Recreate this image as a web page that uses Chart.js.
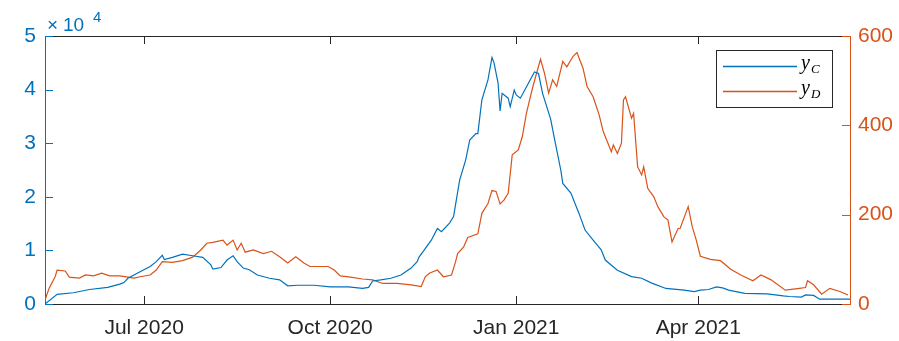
<!DOCTYPE html>
<html>
<head>
<meta charset="utf-8">
<script src="https://cdn.jsdelivr.net/npm/chart.js@4"></script>
<style>
  body { margin: 0; background: #fff; }
  #wrap { width: 899px; height: 341px; }
</style>
</head>
<body>
<div id="wrap"><canvas id="chart" width="899" height="341"></canvas></div>
<script>
// Day 0 = 13 May 2020
const tickDays = [49, 141, 233, 323];
const tickLabels = ['Jul 2020', 'Oct 2020', 'Jan 2021', 'Apr 2021'];
const leftTicks = [0, 10000, 20000, 30000, 40000, 50000];
const rightTicks = [0, 200, 400, 600];

// y_C (left axis)
const daysC = [0, 6, 14, 22, 31, 37, 39, 41, 47, 52, 55, 58, 59, 63, 68, 73, 78, 82, 83, 87, 90, 93, 95, 98, 101, 105, 111, 116, 120, 125, 133, 141, 150, 157, 160, 162, 166, 171, 176, 181, 184, 185, 187, 191, 194, 196, 200, 202, 205, 208, 210, 213, 214, 216, 219, 221, 222, 224, 225, 226, 229, 230, 232, 233, 235, 239, 242, 244, 246, 250, 252, 255, 256, 260, 264, 267, 271, 275, 277, 283, 290, 295, 300, 307, 316, 321, 324, 328, 332, 335, 338, 346, 357, 365, 368, 374, 376, 380, 383, 398];
const valuesC = [0, 1800, 2100, 2700, 3100, 3700, 4000, 4800, 6000, 7000, 7900, 9100, 8300, 8700, 9300, 9000, 8700, 7300, 6500, 6800, 8200, 9000, 7900, 6700, 6400, 5400, 4800, 4500, 3400, 3500, 3500, 3200, 3200, 2900, 3100, 4300, 4500, 4800, 5400, 6700, 7900, 8800, 9800, 11900, 14100, 13500, 15100, 16300, 23100, 26900, 30600, 31800, 31800, 38100, 41800, 46000, 45000, 41200, 36000, 39300, 38400, 36800, 39900, 39000, 38400, 41200, 43300, 43000, 39300, 34500, 30600, 25000, 22500, 20700, 16900, 13800, 11900, 10100, 8200, 6300, 5100, 4800, 3900, 2900, 2600, 2300, 2600, 2700, 3200, 3000, 2600, 2000, 1900, 1500, 1400, 1300, 1700, 1600, 900, 900];

// y_D (right axis)
const daysD = [0, 2, 5, 6, 10, 12, 17, 20, 24, 28, 32, 37, 41, 44, 47, 52, 55, 58, 63, 68, 73, 77, 80, 83, 88, 90, 93, 95, 97, 99, 103, 108, 112, 116, 120, 124, 128, 131, 136, 140, 143, 146, 151, 157, 162, 167, 174, 181, 186, 188, 190, 194, 197, 201, 203, 204, 207, 209, 214, 216, 219, 221, 223, 225, 227, 229, 231, 234, 236, 238, 241, 243, 245, 247, 249, 251, 253, 256, 258, 261, 263, 266, 268, 271, 274, 276, 280, 281, 283, 285, 286, 287, 290, 291, 293, 295, 296, 298, 301, 303, 306, 308, 310, 313, 314, 318, 320, 322, 324, 329, 334, 339, 344, 350, 354, 359, 366, 373, 376, 377, 380, 384, 388, 393, 397];
const valuesD = [9, 35, 61, 76, 74, 60, 58, 65, 63, 69, 63, 63, 60, 58, 61, 65, 76, 95, 93, 97, 105, 121, 136, 138, 143, 132, 143, 121, 136, 116, 121, 113, 118, 106, 92, 106, 92, 84, 84, 84, 76, 63, 60, 56, 54, 46, 46, 43, 39, 61, 69, 76, 61, 65, 95, 113, 128, 149, 157, 203, 225, 254, 252, 224, 233, 248, 334, 345, 375, 427, 483, 516, 548, 516, 472, 502, 487, 543, 531, 554, 563, 528, 487, 464, 423, 386, 341, 356, 337, 360, 457, 464, 416, 427, 307, 289, 307, 259, 240, 218, 195, 188, 139, 169, 169, 218, 173, 143, 107, 100, 97, 78, 65, 52, 65, 54, 31, 35, 37, 52, 43, 22, 35, 28, 20];

const blue = '#0072BD';
const orange = '#D95319';
const dark = '#262626';
const font = '"Liberation Sans", Arial, sans-serif';

// inward tick marks (MATLAB style)
const inwardTicks = {
    id: 'inwardTicks',
    afterDatasetsDraw(chart) {
        const ctx = chart.ctx;
        const a = chart.chartArea;
        const sx = chart.scales.x, yl = chart.scales.yC, yr = chart.scales.yD;
        ctx.save();
        ctx.lineWidth = 1;
        ctx.strokeStyle = dark;
        ctx.beginPath();
        tickDays.forEach(d => {
            const px = Math.round(sx.getPixelForValue(d)) + 0.5;
            ctx.moveTo(px, a.bottom);
            ctx.lineTo(px, a.bottom - 8);
            ctx.moveTo(px, a.top);
            ctx.lineTo(px, a.top + 8);
        });
        ctx.stroke();
        ctx.strokeStyle = blue;
        ctx.beginPath();
        leftTicks.forEach(v => {
            const py = Math.round(yl.getPixelForValue(v)) + 0.5;
            ctx.moveTo(a.left, py);
            ctx.lineTo(a.left + 8, py);
        });
        ctx.stroke();
        ctx.strokeStyle = orange;
        ctx.beginPath();
        rightTicks.forEach(v => {
            const py = Math.round(yr.getPixelForValue(v)) + 0.5;
            ctx.moveTo(a.right, py);
            ctx.lineTo(a.right - 8, py);
        });
        ctx.stroke();
        ctx.restore();
    }
};

// exponent label and legend with subscripts
const extras = {
    id: 'extras',
    afterDraw(chart) {
        const ctx = chart.ctx;
        ctx.save();
        ctx.fillStyle = blue;
        ctx.textBaseline = 'alphabetic';
        ctx.textAlign = 'left';
        ctx.font = '19px ' + font;
        ctx.fillText('\u00d7', 47, 31);
        ctx.fillText('10', 63, 31);
        ctx.font = '15px ' + font;
        ctx.fillText('4', 93, 22);

        const lx = 716, ly = 50, lw = 116, lh = 57;
        ctx.fillStyle = '#fff';
        ctx.fillRect(lx, ly, lw, lh);
        ctx.lineWidth = 1;
        ctx.strokeStyle = dark;
        ctx.strokeRect(lx + 0.5, ly + 0.5, lw, lh);
        [['C', blue, 66], ['D', orange, 91]].forEach(([sub, col, yy]) => {
            ctx.strokeStyle = col;
            ctx.lineWidth = 1.3;
            ctx.beginPath();
            ctx.moveTo(723, yy + 0.5);
            ctx.lineTo(797, yy + 0.5);
            ctx.stroke();
            ctx.fillStyle = '#000';
            ctx.font = 'italic 20px "Liberation Serif", "DejaVu Serif", serif';
            ctx.fillText('y', 801, yy + 3);
            ctx.font = 'italic 13px "Liberation Serif", "DejaVu Serif", serif';
            ctx.fillText(sub, 811, yy + 7);
        });
        ctx.restore();
    }
};

new Chart(document.getElementById('chart'), {
    type: 'line',
    data: {
        datasets: [
            {
                label: 'yC',
                data: daysC.map((d, i) => ({ x: d, y: valuesC[i] })),
                borderColor: blue,
                borderWidth: 1.2,
                pointRadius: 0,
                xAxisID: 'x',
                yAxisID: 'yC'
            },
            {
                label: 'yD',
                data: daysD.map((d, i) => ({ x: d, y: valuesD[i] })),
                borderColor: orange,
                borderWidth: 1.2,
                pointRadius: 0,
                xAxisID: 'x',
                yAxisID: 'yD'
            }
        ]
    },
    options: {
        responsive: false,
        animation: false,
        layout: { padding: { top: 36, left: 0, right: 0, bottom: 0 } },
        plugins: { legend: { display: false }, tooltip: { enabled: false } },
        scales: {
            x: {
                type: 'linear',
                position: 'bottom',
                min: 0,
                max: 398,
                afterBuildTicks: s => { s.ticks = tickDays.map(v => ({ value: v })); },
                afterFit: s => { s.height = 37; },
                grid: { display: false, drawTicks: false },
                border: { color: dark, width: 1 },
                ticks: {
                    color: dark,
                    padding: 12,
                    maxRotation: 0,
                    autoSkip: false,
                    font: { family: font, size: 21 },
                    callback: (v, i) => tickLabels[i]
                }
            },
            xTop: {
                type: 'linear',
                position: 'top',
                min: 0,
                max: 398,
                afterFit: s => { s.height = 0; },
                grid: { display: false, drawTicks: false },
                border: { color: dark, width: 1 },
                ticks: { display: false }
            },
            yC: {
                position: 'left',
                min: 0,
                max: 50000,
                afterBuildTicks: s => { s.ticks = leftTicks.map(v => ({ value: v })); },
                afterFit: s => { s.width = 45; },
                grid: { display: false, drawTicks: false },
                border: { color: blue, width: 1 },
                ticks: {
                    color: blue,
                    padding: 9,
                    font: { family: font, size: 21 },
                    callback: v => String(v / 10000)
                }
            },
            yD: {
                position: 'right',
                min: 0,
                max: 600,
                afterBuildTicks: s => { s.ticks = rightTicks.map(v => ({ value: v })); },
                afterFit: s => { s.width = 49; },
                grid: { display: false, drawTicks: false },
                border: { color: orange, width: 1 },
                ticks: {
                    color: orange,
                    padding: 8,
                    font: { family: font, size: 21 },
                    callback: v => String(v)
                }
            }
        }
    },
    plugins: [inwardTicks, extras]
});
</script>
</body>
</html>
